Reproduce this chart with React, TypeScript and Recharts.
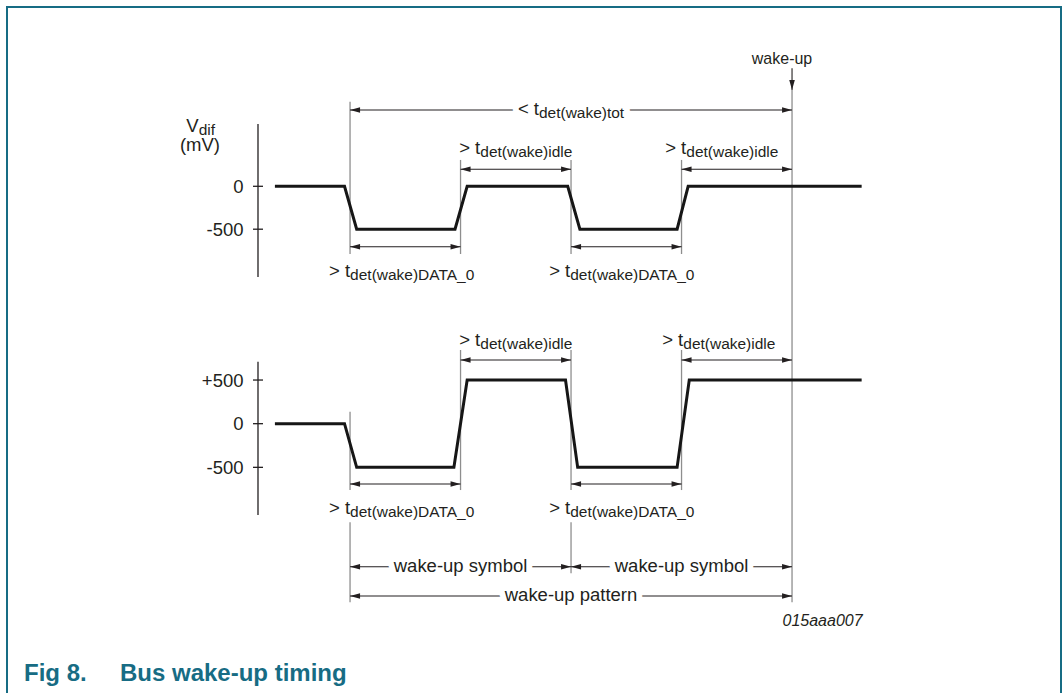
import React from "react";
import { LineChart, Line, XAxis, YAxis, ReferenceLine } from "recharts";

// time in phase units (one DATA_0 / idle phase = 1), differential voltage in mV
const PHASE_BOUNDS = [0, 1, 2, 3, 4]; // DATA_0 start, idle start, DATA_0 start, idle start, wake-up
const TOP_T = [-0.68, -0.05, 0.06, 0.95, 1.06, 1.97, 2.08, 2.96, 3.06, 4.63];
const TOP_V = [0, 0, -500, -500, 0, 0, -500, -500, 0, 0];
const BOT_T = [-0.68, -0.05, 0.06, 0.94, 1.06, 1.95, 2.06, 2.96, 3.07, 4.63];
const BOT_V = [0, 0, -500, -500, 500, 500, -500, -500, 500, 500];
const TOP_TICKS = [0, -500];
const BOT_TICKS = [500, 0, -500];

const TOP_ROWS = TOP_T.map((t, i) => ({ t, v: TOP_V[i] }));
const BOT_ROWS = BOT_T.map((t, i) => ({ t, v: BOT_V[i] }));

const FONT = "'Liberation Sans', Arial, Helvetica, sans-serif";
const INK = "#231f20";
const GREY = "#8e8e8e";
const TEAL = "#176c84";

const X_DOMAIN: [number, number] = [-0.833, 5];
const UNIT_PX = 110.5;
const AXIS_W = 60;
const LEFT = 198;
const RIGHT = 20;
const CHART_W = LEFT + AXIS_W + (X_DOMAIN[1] - X_DOMAIN[0]) * UNIT_PX + RIGHT;

const [T0, T1, T2, T3, T4] = PHASE_BOUNDS;

const fmt = (v: number) => (v > 0 ? `+${v}` : `${v}`);

const AxisTick = (p: any) => {
  const ax = p.x + 14.5;
  return (
    <g>
      <line x1={ax - 5} x2={ax + 5} y1={p.y} y2={p.y} stroke={INK} strokeWidth={1.3} />
      <text x={p.x} y={p.y} dy="0.36em" textAnchor="end" fontSize={18.5} fill={INK} fontFamily={FONT}>
        {fmt(p.payload.value)}
      </text>
    </g>
  );
};

type Lab = {
  text?: string;
  sub?: string;
  dx?: number;
  dy?: number;
  inline?: boolean;
  single?: boolean;
  atStart?: boolean;
  size?: number;
};

const labelText = (lab: Lab, x: number, y: number, extra: any) => (
  <text x={x} y={y} textAnchor="middle" fontSize={lab.size || 18.5} fontFamily={FONT} {...extra}>
    <tspan>{lab.text}</tspan>
    {lab.sub && (
      <tspan fontSize={15.5} dy={3}>
        {lab.sub}
      </tspan>
    )}
  </text>
);

const arrowShape = (lab: Lab = {}) => (p: any) => {
  const { x1, y1, x2, y2 } = p;
  const len = Math.hypot(x2 - x1, y2 - y1) || 1;
  const ux = (x2 - x1) / len;
  const uy = (y2 - y1) / len;
  const L = 10;
  const W = 2.8;
  const head = (tx: number, ty: number, dx: number, dy: number) =>
    `${tx},${ty} ${tx - dx * L - dy * W},${ty - dy * L + dx * W} ${tx - dx * L + dy * W},${ty - dy * L - dx * W}`;
  const lx = (lab.atStart ? x1 : (x1 + x2) / 2) + (lab.dx || 0);
  const ly = (lab.atStart ? y1 : (y1 + y2) / 2) + (lab.dy || 0);
  return (
    <g>
      <line x1={x1} y1={y1} x2={x2} y2={y2} stroke={INK} strokeWidth={1.1} />
      {!lab.single && <polygon points={head(x1, y1, -ux, -uy)} fill={INK} />}
      <polygon points={head(x2, y2, ux, uy)} fill={INK} />
      {/* white halo breaks the arrow line behind inline labels */}
      {lab.text && lab.inline && labelText(lab, lx, ly, { fill: "#fff", stroke: "#fff", strokeWidth: 12, strokeLinejoin: "round" })}
      {lab.text && labelText(lab, lx, ly, { fill: INK })}
    </g>
  );
};

const vline = (key: string, t: number, a: number, b: number) => (
  <ReferenceLine key={key} segment={[{ x: t, y: a }, { x: t, y: b }]} stroke={GREY} strokeWidth={1.3} ifOverflow="visible" />
);

const arrow = (key: string, ta: number, a: number, tb: number, b: number, lab?: Lab) => (
  <ReferenceLine key={key} segment={[{ x: ta, y: a }, { x: tb, y: b }]} ifOverflow="visible" shape={arrowShape(lab)} />
);

const IDLE = { text: "> t", sub: "det(wake)idle" };
const DATA0 = { text: "> t", sub: "det(wake)DATA_0" };

const yAxisProps = {
  type: "number" as const,
  allowDataOverflow: true,
  width: AXIS_W,
  axisLine: { stroke: INK, strokeWidth: 1.3 },
  tickLine: false,
  tickSize: 0,
  tickMargin: 14.5,
  interval: 0 as const,
  tick: (p: any) => <AxisTick {...p} />,
};

const signal = (
  <Line type="linear" dataKey="v" stroke="#161616" strokeWidth={3} dot={false} activeDot={false} isAnimationActive={false} />
);

export default function App() {
  return (
    <div style={{ position: "absolute", left: 0, top: 0, width: 1063, height: 693, overflow: "hidden", background: "#fff", fontFamily: FONT }}>
      {/* figure frame */}
      <div
        style={{
          position: "absolute", left: 6, top: 6, width: 1052, height: 687,
          borderTop: `2px solid ${TEAL}`, borderLeft: `2px solid ${TEAL}`, borderRight: `2px solid ${TEAL}`,
        }}
      />

      {/* upper trace */}
      <div style={{ position: "absolute", left: 0, top: 40, width: CHART_W, height: 250, overflow: "hidden" }}>
        <LineChart width={CHART_W} height={250} data={TOP_ROWS} margin={{ top: 84, right: RIGHT, bottom: 13, left: LEFT }}>
          <XAxis type="number" dataKey="t" domain={X_DOMAIN} allowDataOverflow hide />
          <YAxis {...yAxisProps} domain={[-1057, 726]} ticks={TOP_TICKS} />
          {vline("a0", T0, 986, -789)}
          {vline("a1", T1, 307, -789)}
          {vline("a2", T2, 307, -789)}
          {vline("a3", T3, 307, -789)}
          {vline("a4", T4, 1122, -3000)}
          {arrow("wk", T4, 1375, T4, 1122, { text: "wake-up", size: 16, single: true, atStart: true, dx: -10, dy: -4.3 })}
          {arrow("tot", T0, 889, T4, 889, { text: "< t", sub: "det(wake)tot", inline: true, dy: 4.5 })}
          {arrow("i1", T1, 198, T2, 198, { ...IDLE, dy: -15.3 })}
          {arrow("i2", T3, 198, T4, 198, { ...IDLE, dy: -15.3, dx: -15 })}
          {arrow("d1", T0, -704, T1, -704, { ...DATA0, dy: 30.3, dx: -3.6 })}
          {arrow("d2", T2, -704, T3, -704, { ...DATA0, dy: 30.3, dx: -4.5 })}
          {signal}
        </LineChart>
      </div>

      {/* lower trace */}
      <div style={{ position: "absolute", left: 0, top: 290, width: CHART_W, height: 350, overflow: "hidden" }}>
        <LineChart width={CHART_W} height={350} data={BOT_ROWS} margin={{ top: 71.7, right: RIGHT, bottom: 125, left: LEFT }}>
          <XAxis type="number" dataKey="t" domain={X_DOMAIN} allowDataOverflow hide />
          <YAxis {...yAxisProps} domain={[-1046, 710]} ticks={BOT_TICKS} />
          {vline("b0", T0, 137, -760)}
          {vline("b0l", T0, -1130, -2046)}
          {vline("b1", T1, 844, -760)}
          {vline("b2", T2, 844, -760)}
          {vline("b2l", T2, -1130, -1714)}
          {vline("b3", T3, 844, -760)}
          {vline("b4", T4, 3000, -2046)}
          {arrow("i1", T1, 729, T2, 729, { ...IDLE, dy: -14 })}
          {arrow("i2", T3, 729, T4, 729, { ...IDLE, dy: -14, dx: -18 })}
          {arrow("d1", T0, -691, T1, -691, { ...DATA0, dy: 30, dx: -3.6 })}
          {arrow("d2", T2, -691, T3, -691, { ...DATA0, dy: 30, dx: -4.5 })}
          {arrow("s1", T0, -1639, T2, -1639, { text: "wake-up symbol", inline: true, dy: 5 })}
          {arrow("s2", T2, -1639, T4, -1639, { text: "wake-up symbol", inline: true, dy: 5 })}
          {arrow("pt", T0, -1974, T4, -1974, { text: "wake-up pattern", inline: true, dy: 5 })}
          {signal}
        </LineChart>
      </div>

      {/* axis caption */}
      <div style={{ position: "absolute", left: 115, top: 117.3, width: 100, textAlign: "right", fontSize: 18.5, lineHeight: 1, color: INK }}>
        V<span style={{ fontSize: 15.5, position: "relative", top: 3 }}>dif</span>
      </div>
      <div style={{ position: "absolute", left: 120, top: 136, width: 100, textAlign: "right", fontSize: 18.5, lineHeight: 1, color: INK }}>
        (mV)
      </div>

      <div style={{ position: "absolute", left: 762.6, top: 612.5, width: 100, textAlign: "right", fontSize: 16, fontStyle: "italic", lineHeight: 1, color: INK }}>
        015aaa007
      </div>

      <div style={{ position: "absolute", left: 24, top: 661.4, fontSize: 24, fontWeight: 700, lineHeight: 1, color: TEAL, whiteSpace: "nowrap" }}>
        Fig 8.
      </div>
      <div style={{ position: "absolute", left: 120, top: 661.4, fontSize: 24, fontWeight: 700, lineHeight: 1, color: TEAL, whiteSpace: "nowrap" }}>
        Bus wake-up timing
      </div>
    </div>
  );
}
